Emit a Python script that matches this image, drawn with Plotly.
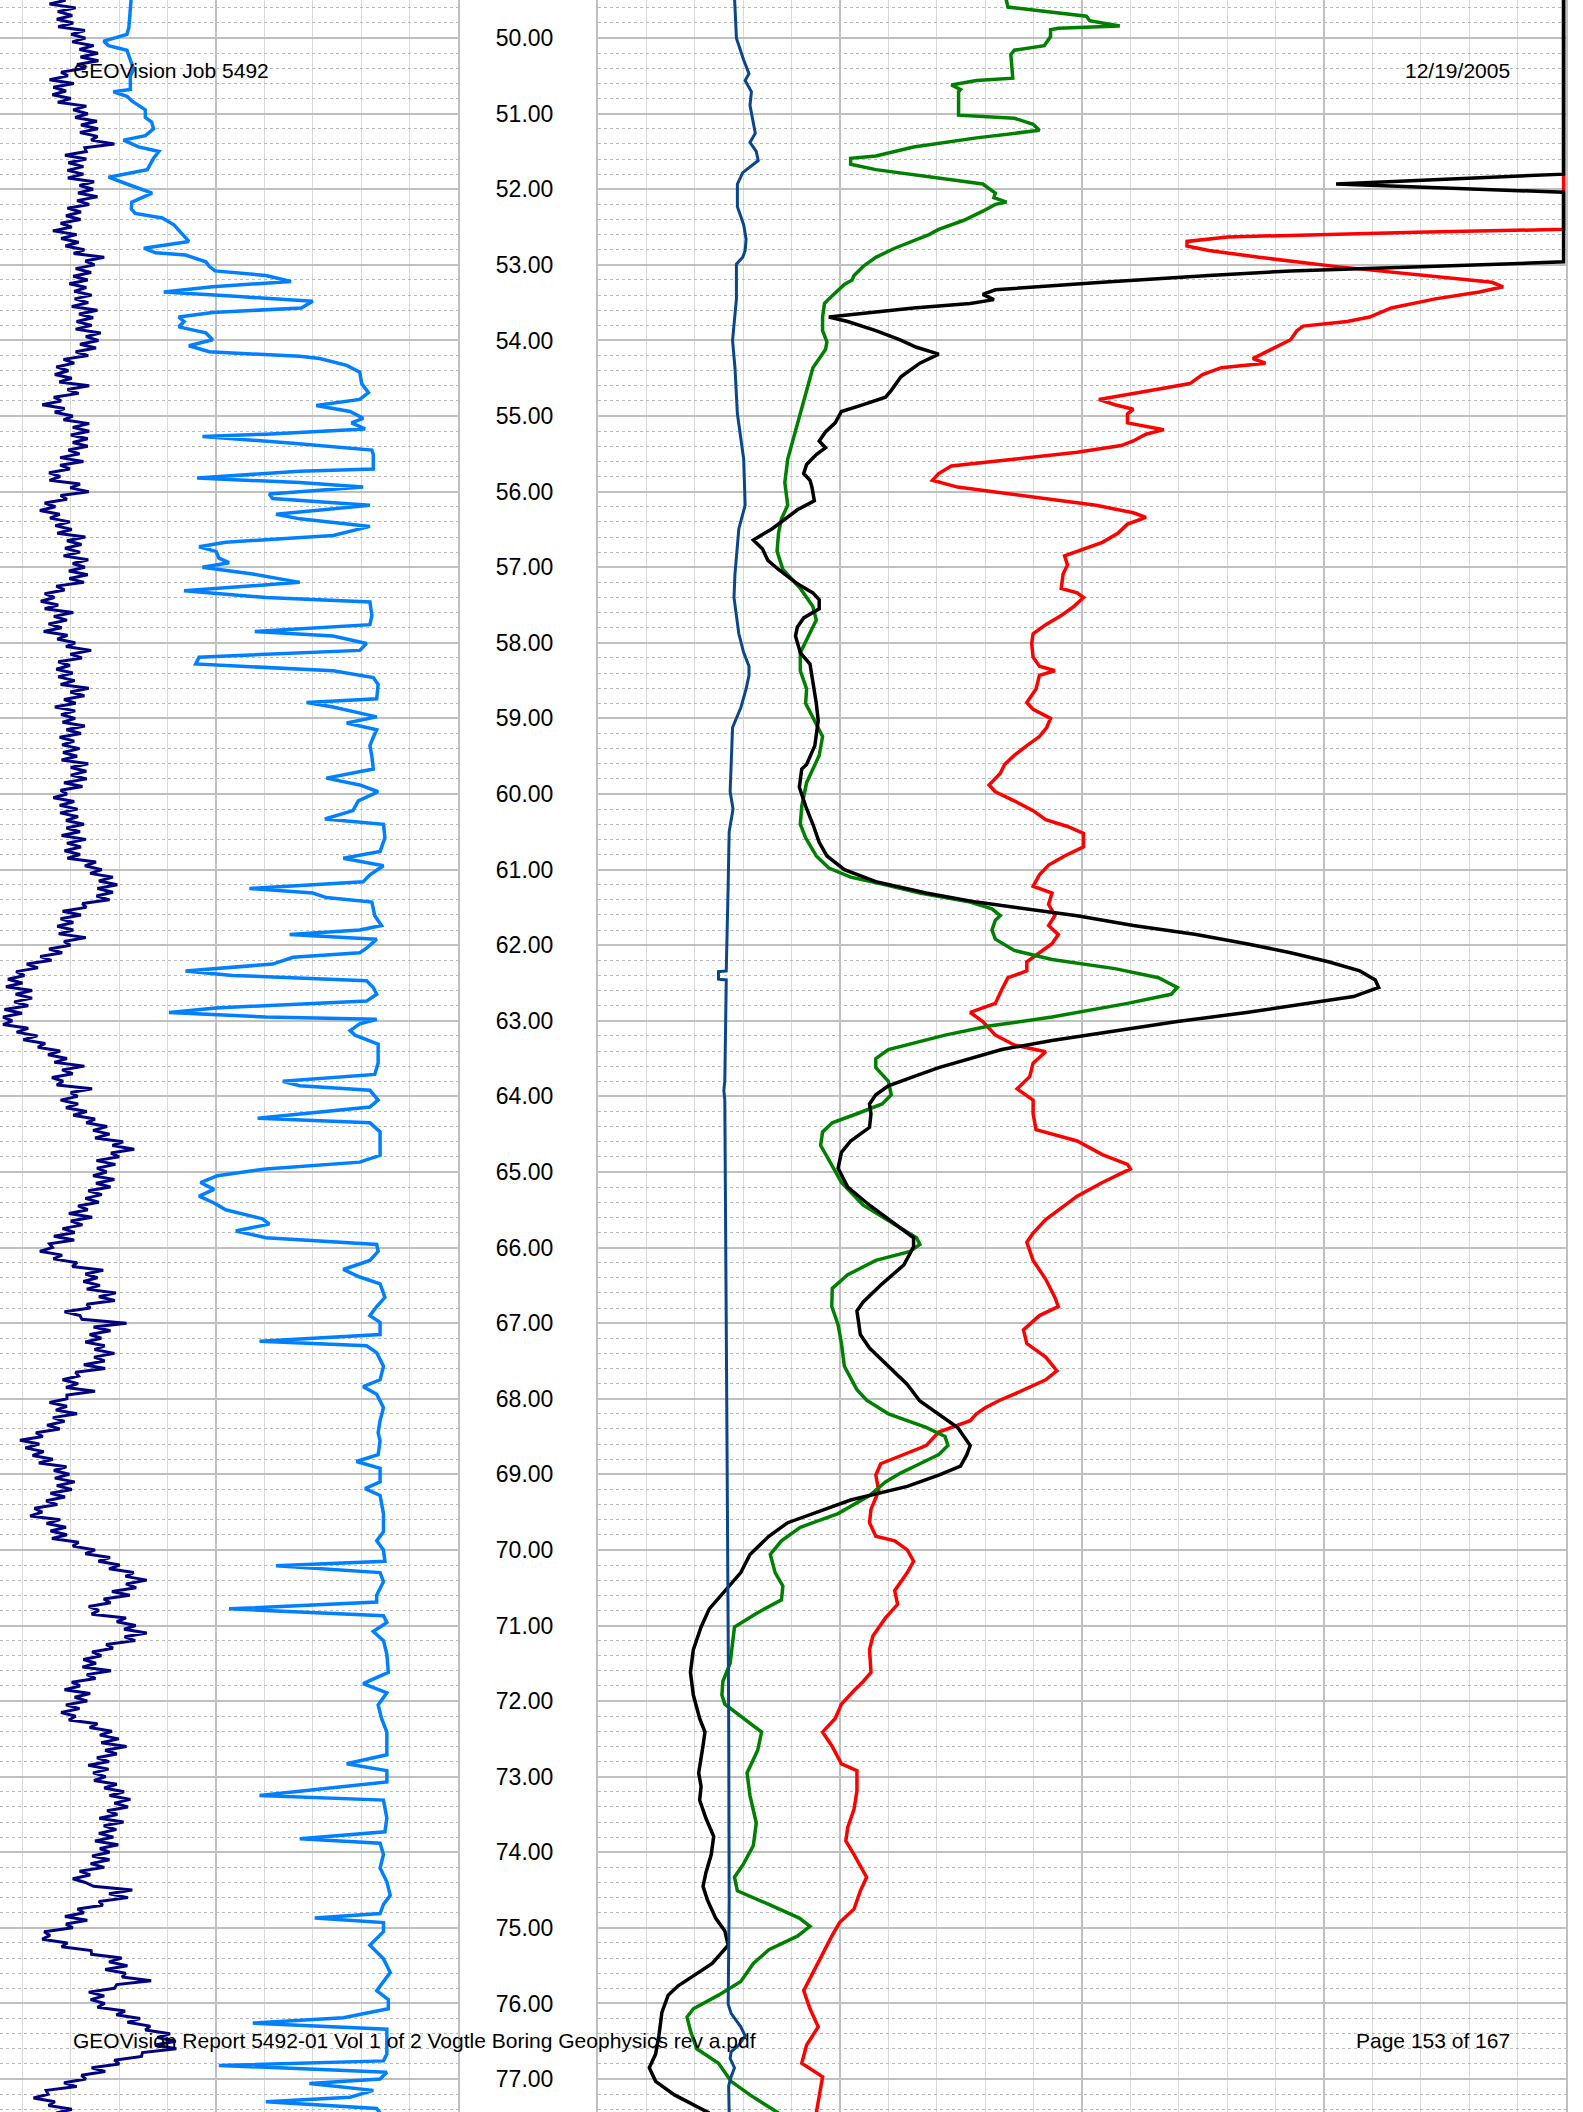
import plotly.graph_objects as go

W, H = 1583, 2112

# ---------------- Left track ----------------
# navy curve: peaks read every 0.1 ft from 49.4, troughs read every 0.1 ft from 49.45
navy_peaks = [
    19.5, 18.9, 21.0, 20.3, 20.5, 22.9, 23.0, 24.7, 25.6, 25.7,
    23.0, 19.4, 20.6, 19.0, 20.0, 23.2, 23.5, 25.4, 25.6, 25.5,
    29.0, 23.2, 23.2, 22.6, 22.6, 24.8, 24.6, 25.5, 23.8, 22.1,
    22.0, 20.2, 21.2, 21.6, 22.8, 26.9, 24.9, 24.2, 23.5, 23.2,
    24.3, 23.6, 25.5, 24.6, 24.3, 26.2, 25.7, 25.2, 23.6, 20.7,
    19.5, 20.2, 23.8, 21.6, 18.0, 18.7, 20.4, 23.8, 23.8, 23.5,
    23.5, 21.8, 22.6, 19.8, 17.8, 21.9, 23.7, 19.2, 16.8, 17.7,
    19.8, 20.2, 23.0, 22.2, 21.9, 23.6, 22.9, 23.5, 22.7, 18.7,
    16.6, 17.4, 20.5, 19.2, 18.1, 19.3, 20.9, 24.2, 22.3, 19.8,
    20.4, 20.8, 23.7, 22.8, 21.0, 20.9, 20.9, 22.9, 22.1, 20.7,
    21.8, 21.3, 23.6, 23.2, 23.3, 22.4, 19.2, 20.7, 21.4, 21.5,
    22.7, 21.9, 23.1, 22.1, 21.9, 25.2, 26.4, 28.7, 29.6, 28.7,
    28.0, 23.2, 22.1, 20.5, 20.5, 23.1, 19.9, 18.2, 16.0, 13.2,
    10.4, 10.0, 12.0, 12.0, 11.2, 9.9, 7.9, 11.2, 13.1, 14.7,
    17.8, 19.2, 22.8, 20.4, 18.4, 24.4, 21.4, 21.5, 23.3, 25.0,
    27.5, 28.0, 30.8, 33.1, 30.0, 29.2, 27.4, 29.0, 28.2, 26.4,
    25.8, 23.5, 24.4, 22.4, 20.8, 20.7, 16.2, 18.2, 21.3, 26.7,
    25.5, 26.0, 29.3, 29.1, 24.0, 21.9, 31.5, 28.2, 26.3, 27.0,
    29.0, 27.0, 27.1, 21.6, 21.5, 25.0, 19.2, 19.2, 21.3, 18.7,
    17.7, 14.2, 13.5, 14.4, 16.3, 19.1, 19.7, 20.8, 20.2, 18.8,
    17.2, 14.1, 17.8, 19.0, 19.2, 21.6, 25.0, 28.1, 30.1, 33.0,
    35.7, 33.5, 32.2, 28.2, 25.8, 31.4, 33.4, 35.7, 33.3, 28.7,
    26.3, 25.2, 28.3, 25.1, 21.9, 24.0, 23.4, 21.8, 21.0, 25.5,
    28.5, 29.9, 31.5, 29.5, 27.9, 27.8, 27.2, 29.5, 31.0, 32.3,
    31.8, 29.6, 30.9, 29.4, 28.8, 29.8, 28.0, 28.0, 26.9, 24.0,
    23.0, 32.7, 31.8, 26.6, 22.7, 23.4, 20.4, 15.7, 19.3, 24.2,
    30.5, 31.7, 31.3, 36.6, 29.0, 26.9, 27.0, 31.2, 34.3, 36.4,
    40.5, 41.7, 41.8, 34.6, 30.0, 27.1, 23.1, 21.2, 15.3, 16.7,
    20.2, 20.2,
]
navy_troughs = [
    16.0, 15.6, 17.3, 17.1, 17.4, 20.1, 20.3, 21.8, 22.0, 21.3,
    18.0, 15.6, 16.4, 16.2, 17.3, 20.5, 20.9, 22.1, 21.9, 24.2,
    22.9, 18.8, 19.5, 19.3, 19.4, 21.8, 21.5, 21.3, 19.3, 19.0,
    17.9, 16.3, 18.0, 18.9, 20.6, 23.0, 21.0, 20.5, 19.7, 20.7,
    20.8, 20.2, 21.7, 21.2, 21.0, 23.1, 21.9, 21.0, 18.5, 17.0,
    16.7, 17.6, 19.3, 16.5, 14.1, 16.7, 18.5, 20.4, 20.0, 20.4,
    19.5, 17.8, 17.8, 15.5, 15.6, 19.9, 17.9, 14.6, 13.6, 15.7,
    16.8, 17.2, 19.2, 18.8, 18.5, 20.4, 19.6, 19.7, 17.0, 14.6,
    13.8, 14.6, 16.5, 15.4, 14.4, 17.2, 19.0, 19.9, 17.4, 17.0,
    17.4, 17.9, 19.9, 18.6, 16.7, 18.0, 18.3, 19.1, 17.7, 18.2,
    18.4, 18.1, 20.0, 20.0, 18.6, 17.9, 16.4, 17.7, 17.8, 19.0,
    19.1, 18.1, 19.2, 18.7, 19.3, 22.9, 24.0, 25.8, 25.5, 25.3,
    22.4, 18.3, 17.9, 17.2, 17.5, 18.6, 15.5, 13.7, 10.9, 8.7,
    7.0, 6.6, 8.6, 8.3, 6.3, 6.0, 6.0, 8.8, 10.2, 13.2,
    15.3, 16.6, 18.2, 16.1, 17.1, 20.0, 17.9, 19.0, 20.5, 23.2,
    24.6, 25.0, 28.6, 28.3, 25.3, 25.4, 24.6, 25.2, 23.6, 23.0,
    21.5, 19.6, 20.0, 18.3, 16.5, 15.6, 13.6, 16.4, 20.3, 23.0,
    22.6, 23.3, 25.8, 23.3, 18.7, 22.3, 24.7, 23.9, 23.0, 24.9,
    24.8, 22.7, 21.0, 18.3, 19.0, 19.2, 15.6, 16.9, 16.3, 15.1,
    12.8, 9.5, 10.6, 12.1, 13.4, 16.5, 16.7, 17.1, 15.8, 14.9,
    12.5, 11.6, 15.0, 15.8, 16.1, 20.4, 23.0, 25.7, 27.9, 31.3,
    31.4, 28.5, 26.8, 23.7, 24.3, 29.5, 31.0, 31.1, 27.3, 24.4,
    22.6, 22.4, 23.3, 20.2, 18.7, 20.8, 19.0, 18.0, 19.6, 23.9,
    26.0, 26.3, 27.1, 25.4, 23.6, 24.6, 24.8, 26.9, 28.0, 29.0,
    27.5, 25.9, 26.8, 25.8, 25.0, 26.0, 24.4, 24.1, 21.8, 20.4,
    24.7, 27.9, 25.8, 21.4, 18.8, 19.0, 14.5, 14.1, 18.1, 24.3,
    27.9, 27.1, 30.6, 29.5, 23.7, 24.1, 25.5, 29.4, 31.7, 35.4,
    37.9, 37.4, 34.8, 29.0, 24.3, 22.2, 18.6, 14.9, 12.3, 15.4,
    17.0,
]
navy_depth, navy_vals = [], []
for i, pk in enumerate(navy_peaks):
    navy_depth.append(round(49.4 + 0.1 * i, 2))
    navy_vals.append(pk)
    if i < len(navy_troughs):
        navy_depth.append(round(49.45 + 0.1 * i, 2))
        navy_vals.append(navy_troughs[i])

sky_depth = [
    49.45, 49.86, 49.95, 50.04, 50.10, 50.16, 50.29, 50.41, 50.50, 50.68,
    50.71, 50.77, 50.83, 50.95, 51.05, 51.11, 51.20, 51.29, 51.35, 51.44,
    51.50, 51.59, 51.74, 51.84, 51.93, 52.05, 52.17, 52.26, 52.32, 52.38,
    52.47, 52.60, 52.69, 52.78, 52.84, 52.87, 52.96, 53.02, 53.08, 53.14,
    53.22, 53.29, 53.36, 53.42, 53.48, 53.57, 53.63, 53.69, 53.75, 53.82,
    53.90, 53.99, 54.07, 54.15, 54.21, 54.24, 54.33, 54.42, 54.57, 54.69,
    54.78, 54.86, 54.94, 55.03, 55.09, 55.17, 55.24, 55.27, 55.36, 55.45,
    55.51, 55.70, 55.73, 55.82, 55.88, 55.94, 56.03, 56.09, 56.18, 56.30,
    56.36, 56.46, 56.58, 56.67, 56.73, 56.79, 56.88, 56.94, 57.00, 57.09,
    57.20, 57.31, 57.40, 57.46, 57.64, 57.76, 57.85, 57.91, 58.01, 58.10,
    58.19, 58.28, 58.37, 58.46, 58.55, 58.74, 58.79, 58.85, 58.98, 59.06,
    59.15, 59.25, 59.36, 59.50, 59.67, 59.79, 59.88, 59.97, 60.09, 60.22,
    60.33, 60.40, 60.58, 60.76, 60.85, 60.95, 61.07, 61.16, 61.25, 61.31,
    61.37, 61.43, 61.61, 61.74, 61.80, 61.86, 61.92, 62.04, 62.10, 62.16,
    62.25, 62.34, 62.40, 62.47, 62.56, 62.65, 62.74, 62.83, 62.89, 62.95,
    62.98, 63.04, 63.13, 63.19, 63.31, 63.56, 63.71, 63.80, 63.86, 63.92,
    64.05, 64.14, 64.23, 64.29, 64.35, 64.47, 64.78, 64.87, 64.96, 65.05,
    65.14, 65.23, 65.32, 65.41, 65.50, 65.62, 65.69, 65.78, 65.87, 65.96,
    66.05, 66.17, 66.29, 66.39, 66.48, 66.66, 66.78, 66.90, 66.99, 67.15,
    67.24, 67.30, 67.39, 67.57, 67.75, 67.84, 67.94, 68.12, 68.29, 68.45,
    68.56, 68.74, 68.83, 68.92, 69.10, 69.19, 69.28, 69.52, 69.76, 69.88,
    70.00, 70.15, 70.21, 70.30, 70.42, 70.60, 70.69, 70.78, 70.87, 70.96,
    71.08, 71.20, 71.38, 71.62, 71.77, 71.89, 72.05, 72.23, 72.41, 72.71,
    72.83, 72.92, 73.07, 73.25, 73.31, 73.55, 73.73, 73.82, 73.88, 74.03,
    74.21, 74.39, 74.57, 74.69, 74.81, 74.87, 74.93, 75.05, 75.23, 75.41,
    75.59, 75.83, 75.95, 76.07, 76.19, 76.26, 76.34, 76.49, 76.67, 76.76,
    76.82, 76.88, 76.91, 77.00, 77.06, 77.15, 77.24, 77.30, 77.39, 77.45,
]
sky_vals = [
    32.5, 32.0, 31.6, 26.8, 27.8, 31.6, 32.3, 33.0, 32.3, 32.3,
    28.8, 31.6, 32.6, 35.4, 35.4, 36.7, 37.1, 35.4, 30.9, 34.0,
    38.2, 37.1, 35.8, 27.8, 31.6, 36.8, 32.6, 32.5, 33.3, 38.9,
    41.3, 43.0, 44.4, 35.1, 37.5, 43.7, 47.9, 48.6, 49.8, 60.3,
    65.5, 49.3, 39.2, 54.8, 70.0, 67.6, 49.3, 42.3, 43.4, 42.3,
    47.9, 49.3, 44.4, 48.6, 67.3, 71.4, 77.0, 79.7, 80.1, 81.5,
    79.7, 70.7, 77.7, 80.4, 78.0, 80.8, 60.3, 47.2, 65.9, 82.2,
    82.5, 82.5, 67.3, 46.1, 67.3, 80.4, 61.0, 61.7, 81.8, 62.4,
    67.3, 81.8, 74.2, 52.0, 46.5, 50.0, 50.6, 52.7, 47.2, 57.6,
    67.3, 43.4, 60.3, 81.8, 82.2, 81.8, 58.0, 74.2, 81.1, 79.7,
    46.5, 45.8, 74.2, 82.5, 83.5, 83.2, 68.7, 74.2, 83.2, 77.0,
    83.2, 82.5, 81.8, 82.2, 82.5, 72.8, 79.7, 83.5, 79.4, 78.3,
    72.5, 84.6, 84.9, 83.9, 76.3, 84.6, 81.8, 80.4, 56.9, 70.0,
    72.8, 82.2, 82.8, 84.2, 79.7, 65.2, 83.2, 81.1, 79.7, 65.9,
    61.7, 43.7, 53.4, 81.1, 82.5, 83.2, 81.1, 50.0, 40.3, 60.3,
    83.2, 79.7, 77.7, 78.7, 83.5, 83.5, 82.8, 63.8, 67.3, 81.8,
    83.5, 81.8, 67.3, 58.6, 81.8, 83.9, 83.9, 79.7, 60.3, 50.3,
    46.8, 49.6, 46.5, 49.6, 52.0, 59.6, 61.0, 54.1, 60.3, 83.2,
    83.5, 81.8, 76.3, 79.7, 83.9, 84.9, 83.2, 81.8, 83.9, 83.9,
    59.0, 81.1, 83.2, 84.6, 83.9, 80.4, 83.2, 84.6, 83.9, 83.5,
    83.9, 83.5, 79.0, 83.9, 83.9, 80.8, 83.9, 84.6, 84.6, 83.2,
    84.6, 84.9, 62.4, 83.9, 84.6, 83.2, 83.2, 52.7, 84.6, 85.3,
    82.5, 84.6, 85.3, 85.6, 80.4, 85.3, 83.5, 84.2, 85.3, 85.3,
    77.0, 85.3, 85.3, 59.0, 84.6, 85.3, 84.9, 67.3, 83.9, 84.6,
    83.9, 85.3, 86.0, 84.6, 83.9, 70.4, 84.6, 84.6, 81.8, 84.6,
    86.0, 83.2, 85.6, 85.6, 76.3, 57.6, 85.3, 85.3, 85.3, 84.6,
    50.6, 74.2, 85.3, 83.9, 69.3, 82.5, 77.7, 60.3, 83.2, 83.9,
]

# ---------------- Right track ----------------
steel_depth = [
    49.45, 50.00, 50.29, 50.47, 50.56, 50.71, 50.89, 51.08, 51.26, 51.38,
    51.50, 51.62, 51.78, 51.93, 52.23, 52.47, 52.66, 52.81, 52.90, 52.99,
    53.45, 54.00, 54.36, 54.97, 55.57, 56.18, 56.49, 57.09, 57.40, 57.88,
    58.13, 58.31, 58.43, 58.61, 58.86, 59.12, 59.67, 59.97, 60.20, 60.50,
    61.19, 61.92, 62.34, 62.35, 62.45, 62.46, 63.80, 63.92, 64.05, 68.02,
    69.82, 72.23, 74.63, 76.01, 76.13, 76.31, 76.43, 76.55, 76.64, 76.73,
    76.85, 76.97, 77.09, 77.45,
]
steel_vals = [
    28.2, 28.6, 30.1, 31.2, 30.4, 31.7, 31.4, 31.9, 32.5, 31.4,
    32.7, 33.1, 29.9, 28.8, 28.8, 30.1, 30.6, 30.4, 29.9, 28.6,
    28.6, 27.8, 28.3, 28.8, 30.1, 30.4, 29.1, 28.3, 28.1, 29.1,
    30.1, 31.2, 31.2, 30.6, 29.5, 27.8, 27.5, 27.3, 27.9, 27.1,
    26.9, 26.6, 26.5, 24.9, 24.9, 26.5, 26.2, 26.0, 26.2, 26.6,
    26.8, 27.0, 27.1, 26.9, 27.5, 29.5, 30.4, 29.1, 27.5, 27.3,
    28.2, 27.5, 27.0, 27.1,
]

green_depth = [
    49.45, 49.59, 49.71, 49.77, 49.80, 49.84, 49.87, 49.89, 49.98, 50.10,
    50.16, 50.22, 50.53, 50.56, 50.62, 50.68, 50.71, 51.02, 51.06, 51.14,
    51.22, 51.32, 51.44, 51.56, 51.59, 51.67, 51.74, 51.93, 52.05, 52.11,
    52.17, 52.20, 52.29, 52.41, 52.53, 52.60, 52.78, 52.90, 53.02, 53.14,
    53.20, 53.26, 53.45, 53.51, 53.69, 53.87, 54.02, 54.12, 54.36, 54.66,
    54.97, 55.27, 55.57, 55.88, 56.18, 56.36, 56.55, 56.79, 57.03, 57.28,
    57.52, 57.70, 57.88, 58.13, 58.37, 58.61, 58.80, 59.00, 59.24, 59.49,
    59.85, 60.16, 60.40, 60.58, 60.82, 60.98, 61.10, 61.19, 61.31, 61.43,
    61.52, 61.61, 61.67, 61.80, 61.92, 62.07, 62.19, 62.31, 62.43, 62.56,
    62.65, 62.77, 62.95, 63.07, 63.19, 63.38, 63.50, 63.62, 63.80, 63.98,
    64.10, 64.23, 64.35, 64.47, 64.65, 64.84, 65.14, 65.44, 65.69, 65.87,
    65.96, 66.05, 66.17, 66.36, 66.54, 66.78, 67.02, 67.27, 67.57, 67.88,
    68.02, 68.20, 68.38, 68.50, 68.62, 68.74, 68.86, 68.98, 69.10, 69.28,
    69.52, 69.70, 69.88, 70.06, 70.30, 70.48, 70.66, 70.84, 71.02, 71.26,
    71.50, 71.74, 71.92, 72.04, 72.23, 72.41, 72.65, 72.95, 73.25, 73.61,
    73.91, 74.15, 74.33, 74.51, 74.69, 74.87, 74.98, 75.11, 75.29, 75.47,
    75.71, 75.89, 76.07, 76.18, 76.36, 76.60, 76.79, 77.03, 77.21, 77.45,
]
green_vals = [
    84.2, 84.7, 100.9, 101.6, 104.2, 107.8, 95.1, 93.5, 93.5, 92.2,
    86.0, 85.3, 85.7, 78.2, 73.0, 74.9, 74.5, 74.5, 86.0, 89.9,
    91.2, 78.2, 65.2, 57.4, 52.2, 52.2, 57.4, 79.5, 82.1, 81.8,
    84.4, 82.1, 79.5, 75.6, 70.4, 68.4, 61.3, 57.4, 54.8, 52.9,
    52.5, 50.9, 47.7, 46.8, 46.4, 46.4, 47.3, 47.0, 44.4, 43.1,
    41.8, 40.5, 39.2, 38.6, 39.2, 37.9, 37.3, 37.0, 38.2, 41.8,
    44.4, 45.1, 43.8, 41.8, 41.8, 43.1, 42.9, 44.4, 46.4, 45.7,
    43.1, 42.1, 41.8, 42.9, 45.1, 47.7, 52.2, 58.7, 66.5, 76.9,
    81.4, 83.1, 82.1, 81.4, 82.1, 86.0, 93.8, 106.8, 115.8, 119.7,
    118.4, 109.4, 93.8, 80.8, 71.7, 60.0, 57.4, 57.4, 60.0, 60.6,
    58.7, 53.5, 48.4, 46.4, 46.0, 47.7, 50.3, 54.8, 61.3, 65.8,
    66.5, 64.5, 57.4, 51.6, 48.4, 48.3, 49.6, 50.3, 50.9, 53.5,
    55.5, 60.0, 67.8, 71.7, 72.3, 70.4, 66.5, 62.6, 59.4, 56.1,
    49.6, 41.8, 37.9, 35.6, 36.6, 38.2, 37.9, 32.7, 28.2, 27.8,
    27.3, 25.8, 25.6, 26.2, 30.1, 33.8, 33.0, 30.8, 31.4, 32.7,
    32.1, 30.1, 28.2, 28.8, 35.3, 41.6, 43.8, 41.2, 35.3, 32.1,
    29.5, 24.9, 19.7, 18.4, 19.1, 20.4, 24.9, 27.5, 31.4, 37.3,
]

black_depth = [
    49.45, 51.80, 51.93, 52.04, 52.96, 52.99, 53.08, 53.14, 53.23, 53.33,
    53.39, 53.46, 53.51, 53.57, 53.69, 53.75, 53.87, 53.99, 54.09, 54.18,
    54.30, 54.48, 54.66, 54.75, 54.85, 54.94, 55.09, 55.21, 55.33, 55.42,
    55.51, 55.64, 55.76, 55.85, 55.94, 56.12, 56.24, 56.36, 56.49, 56.64,
    56.76, 56.91, 57.03, 57.22, 57.34, 57.43, 57.55, 57.67, 57.79, 57.91,
    58.13, 58.28, 58.50, 58.80, 59.03, 59.36, 59.61, 59.67, 59.91, 60.16,
    60.40, 60.64, 60.82, 61.00, 61.16, 61.31, 61.43, 61.52, 61.61, 61.74,
    61.86, 61.98, 62.10, 62.22, 62.34, 62.46, 62.56, 62.68, 62.77, 62.89,
    63.01, 63.13, 63.26, 63.38, 63.50, 63.62, 63.74, 63.86, 63.98, 64.10,
    64.23, 64.41, 64.59, 64.74, 64.95, 65.20, 65.44, 65.69, 65.87, 65.99,
    66.23, 66.48, 66.72, 66.84, 67.15, 67.33, 67.57, 67.81, 68.03, 68.20,
    68.38, 68.62, 68.74, 68.89, 69.01, 69.16, 69.34, 69.46, 69.64, 69.82,
    70.06, 70.30, 70.54, 70.78, 71.02, 71.32, 71.62, 71.92, 72.23, 72.41,
    72.59, 72.83, 72.95, 73.13, 73.31, 73.55, 73.79, 74.03, 74.27, 74.45,
    74.63, 74.87, 75.04, 75.23, 75.47, 75.77, 75.89, 76.12, 76.42, 76.67,
    76.85, 77.03, 77.21, 77.45,
]
black_vals = [
    199.5, 199.5, 152.5, 199.5, 199.5, 187.3, 143.1, 126.2, 104.2, 82.1,
    79.5, 81.8, 76.9, 65.2, 47.7, 51.6, 57.4, 62.3, 65.8, 70.4,
    66.5, 62.6, 60.6, 59.4, 54.8, 50.3, 49.0, 47.0, 45.7, 47.0,
    45.1, 43.1, 42.5, 43.8, 44.2, 44.7, 41.2, 38.6, 36.0, 32.1,
    34.0, 35.1, 37.3, 41.2, 44.4, 45.7, 45.7, 42.5, 41.2, 40.8,
    41.8, 43.8, 44.4, 45.1, 45.5, 44.8, 43.1, 42.1, 41.6, 42.9,
    44.4, 45.7, 47.3, 50.9, 57.4, 67.8, 78.2, 88.6, 99.0, 110.6,
    123.6, 134.0, 143.1, 150.9, 157.4, 160.6, 161.3, 156.1, 147.0, 134.0,
    119.7, 106.8, 93.8, 83.4, 76.9, 70.4, 65.2, 60.0, 57.4, 56.1,
    56.4, 56.1, 52.2, 50.3, 49.6, 51.6, 56.1, 61.3, 65.2, 65.2,
    63.2, 58.7, 54.8, 53.5, 54.2, 56.1, 60.0, 63.9, 66.5, 70.4,
    74.3, 76.9, 76.2, 74.9, 70.4, 63.9, 52.2, 47.0, 39.2, 35.3,
    31.4, 29.5, 26.2, 23.0, 21.3, 19.7, 19.1, 19.7, 21.0, 22.1,
    21.7, 21.0, 20.8, 21.3, 21.0, 22.3, 23.9, 23.4, 22.3, 21.7,
    22.6, 24.3, 26.2, 26.9, 23.6, 16.5, 14.5, 13.2, 12.6, 11.9,
    10.6, 11.9, 15.8, 23.0,
]

red_depth = [
    49.45, 52.53, 52.57, 52.63, 52.69, 52.75, 52.81, 52.90, 53.02, 53.14,
    53.23, 53.29, 53.36, 53.45, 53.57, 53.69, 53.75, 53.81, 53.87, 53.99,
    54.12, 54.24, 54.30, 54.36, 54.45, 54.57, 54.63, 54.69, 54.78, 54.85,
    54.91, 54.97, 55.09, 55.18, 55.24, 55.33, 55.39, 55.48, 55.57, 55.66,
    55.76, 55.85, 55.94, 56.06, 56.18, 56.28, 56.34, 56.43, 56.55, 56.67,
    56.79, 56.85, 56.97, 57.09, 57.28, 57.34, 57.40, 57.52, 57.64, 57.76,
    57.88, 58.01, 58.19, 58.31, 58.37, 58.43, 58.61, 58.79, 58.88, 59.00,
    59.12, 59.24, 59.36, 59.49, 59.61, 59.73, 59.88, 59.97, 60.09, 60.22,
    60.34, 60.43, 60.52, 60.70, 60.82, 60.94, 61.07, 61.22, 61.31, 61.46,
    61.61, 61.74, 61.86, 61.98, 62.10, 62.22, 62.34, 62.43, 62.59, 62.77,
    62.89, 63.01, 63.19, 63.32, 63.41, 63.56, 63.74, 63.90, 64.05, 64.23,
    64.44, 64.59, 64.77, 64.90, 64.96, 65.14, 65.32, 65.44, 65.63, 65.81,
    65.93, 66.17, 66.42, 66.66, 66.78, 66.90, 67.09, 67.27, 67.45, 67.63,
    67.75, 67.94, 68.02, 68.12, 68.20, 68.29, 68.44, 68.62, 68.74, 68.86,
    69.01, 69.22, 69.46, 69.64, 69.82, 69.88, 70.00, 70.15, 70.30, 70.54,
    70.72, 70.90, 71.14, 71.32, 71.62, 71.74, 71.86, 72.04, 72.23, 72.41,
    72.59, 72.83, 72.92, 73.19, 73.43, 73.67, 73.85, 74.03, 74.33, 74.51,
    74.75, 74.93, 75.11, 75.35, 75.59, 75.83, 76.07, 76.31, 76.55, 76.79,
    76.97, 77.21, 77.45,
]
red_vals = [
    199.5, 199.5, 169.1, 130.1, 121.7, 121.7, 126.2, 136.6, 152.2, 171.7,
    184.7, 187.0, 182.1, 173.0, 163.9, 159.4, 154.8, 145.7, 144.4, 143.1,
    139.2, 135.3, 137.9, 128.8, 124.9, 122.3, 117.1, 111.9, 103.5, 106.8,
    110.6, 109.4, 109.4, 116.9, 113.2, 110.6, 108.1, 99.0, 86.0, 73.0,
    70.4, 69.1, 74.3, 88.6, 102.9, 110.6, 113.2, 109.4, 107.4, 104.2,
    99.0, 96.4, 97.0, 96.1, 95.7, 99.0, 100.3, 98.3, 95.7, 92.5,
    89.9, 89.6, 89.9, 91.2, 94.4, 91.2, 90.5, 88.6, 89.9, 93.5,
    92.7, 91.2, 88.6, 86.0, 84.0, 83.1, 80.8, 82.1, 86.0, 89.9,
    92.5, 97.0, 100.3, 100.3, 96.4, 93.1, 91.2, 89.9, 93.8, 93.1,
    94.4, 93.1, 95.1, 93.8, 91.2, 88.6, 88.6, 84.7, 83.4, 82.1,
    76.9, 79.5, 82.1, 86.0, 92.5, 89.9, 89.2, 86.6, 89.9, 89.9,
    90.5, 99.0, 104.2, 109.4, 110.0, 104.2, 99.0, 96.4, 92.5, 89.9,
    88.6, 89.9, 92.5, 94.4, 95.1, 91.2, 87.9, 88.6, 92.5, 94.8,
    92.5, 86.0, 83.0, 80.0, 78.2, 76.9, 70.4, 67.8, 63.2, 58.4,
    57.4, 58.0, 56.4, 56.1, 57.4, 61.3, 63.9, 65.2, 63.9, 61.3,
    61.9, 59.4, 56.8, 56.1, 56.4, 54.8, 52.9, 50.3, 49.0, 46.4,
    48.3, 50.3, 53.5, 53.5, 52.9, 51.6, 51.2, 52.9, 55.5, 54.2,
    52.9, 49.9, 48.3, 46.4, 44.4, 42.5, 43.8, 45.5, 43.1, 42.1,
    46.4, 45.7, 45.1,
]

# depth tick labels of the central column
depth_ticks = list(range(50, 78))

header_left = "GEOVision Job 5492"
header_right = "12/19/2005"
footer_left = "GEOVision Report 5492-01 Vol 1 of 2 Vogtle Boring Geophysics rev a.pdf"
footer_right = "Page 153 of 167"

# ---------------- Figure ----------------
fig = go.Figure()

def line(x, y, color, width, xa, ya):
    fig.add_trace(go.Scatter(x=x, y=y, mode="lines", xaxis=xa, yaxis=ya,
                             line=dict(color=color, width=width),
                             hoverinfo="skip", showlegend=False))

line(navy_vals, navy_depth, "#000080", 3, "x", "y")
line(sky_vals, sky_depth, "#0080ff", 3.5, "x", "y")
line(red_vals, red_depth, "#ff0000", 3.5, "x2", "y2")
line(green_vals, green_depth, "#008000", 3.5, "x2", "y2")
line(black_vals, black_depth, "#000000", 3.5, "x2", "y2")
line(steel_vals, steel_depth, "#0a468c", 3, "x2", "y2")

MAJ = "#c0c0c0"
MINX = "#d9d9d9"
MINY = "#b8b8b8"
FONT = "Liberation Sans, Arial, sans-serif"
y_range = [77.436, 49.496]

xcommon = dict(tick0=0, dtick=50, showgrid=True, gridcolor=MAJ, gridwidth=2,
               showticklabels=False, ticks="", zeroline=False, showline=False,
               minor=dict(tick0=0, dtick=10, showgrid=True, gridcolor=MINX, gridwidth=1))
ycommon = dict(range=y_range, tick0=0, dtick=1, showgrid=True, gridcolor=MAJ, gridwidth=2,
               zeroline=False, ticks="", showline=True, linecolor=MAJ, linewidth=2,
               layer="below traces",
               minor=dict(tick0=0, dtick=0.2, showgrid=True, gridcolor=MINY,
                          gridwidth=1, griddash="dot"))

fig.update_layout(
    width=W, height=H, margin=dict(l=0, r=0, t=0, b=0, pad=0),
    paper_bgcolor="white", plot_bgcolor="white", showlegend=False,
    xaxis=dict(domain=[0, 458 / W], range=[5.37, 100], anchor="y", **xcommon),
    yaxis=dict(domain=[0, 1], anchor="x", side="right", showticklabels=False, **ycommon),
    xaxis2=dict(domain=[598 / W, 1566 / W], range=[0, 200], anchor="y2", **xcommon),
    yaxis2=dict(domain=[0, 1], anchor="x2", side="left", mirror=True,
                showticklabels=True, tickmode="array", tickvals=depth_ticks,
                ticktext=[f"{d:.2f}" for d in depth_ticks],
                ticklabelstandoff=38,
                tickfont=dict(family=FONT, size=23, color="black"), **ycommon),
)

def note(text, px, py, anchor):
    fig.add_annotation(text=text, x=px / W, y=1 - py / H, xref="paper", yref="paper",
                       xanchor=anchor, yanchor="middle", showarrow=False,
                       font=dict(family=FONT, size=21, color="black"))

note(header_left, 71, 70, "left")
note(header_right, 1512, 70, "right")
note(footer_left, 71, 2040, "left")
note(footer_right, 1512, 2040, "right")

fig.write_html("out.html", config={"displayModeBar": False},
               post_script="document.body.style.margin='0px';")
